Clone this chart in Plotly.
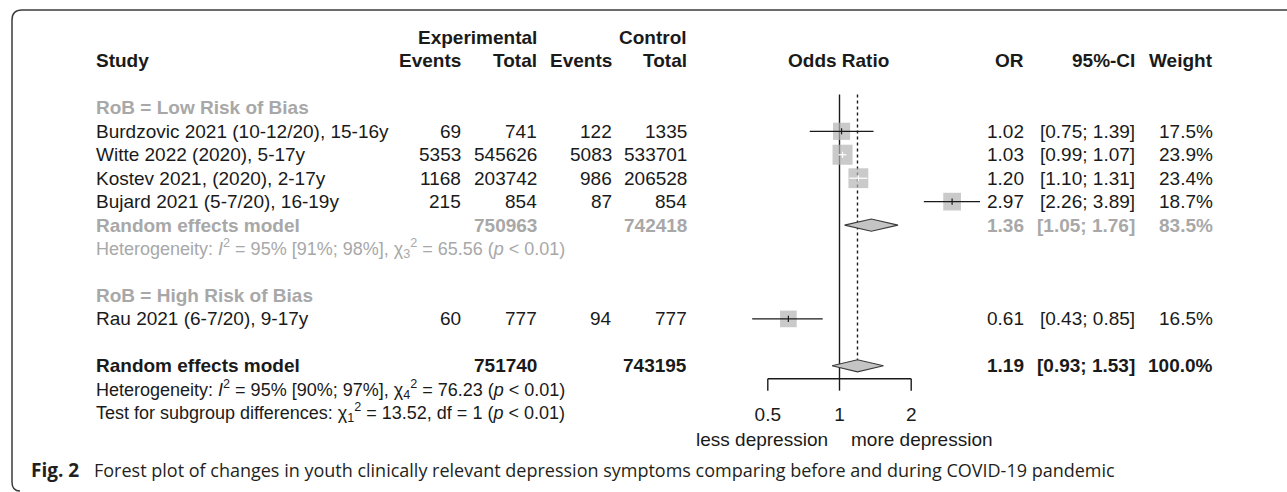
import math
import plotly.graph_objects as go

# ---------------- data ----------------
study_labels = [
    "Burdzovic 2021 (10-12/20), 15-16y",
    "Witte 2022 (2020), 5-17y",
    "Kostev 2021, (2020), 2-17y",
    "Bujard 2021 (5-7/20), 16-19y",
    "Rau 2021 (6-7/20), 9-17y",
]
exp_events = [69, 5353, 1168, 215, 60]
exp_total = [741, 545626, 203742, 854, 777]
ctrl_events = [122, 5083, 986, 87, 94]
ctrl_total = [1335, 533701, 206528, 854, 777]
odds_ratio = [1.02, 1.03, 1.20, 2.97, 0.61]
ci_low = [0.75, 0.99, 1.10, 2.26, 0.43]
ci_high = [1.39, 1.07, 1.31, 3.89, 0.85]
weight = [17.5, 23.9, 23.4, 18.7, 16.5]

subgroup_labels = ["RoB = Low Risk of Bias", "RoB = High Risk of Bias"]
sub_model_label = "Random effects model"
sub_exp_total = 750963
sub_ctrl_total = 742418
sub_or, sub_low, sub_high, sub_weight = 1.36, 1.05, 1.76, 83.5
sub_het = ("Heterogeneity: <i>I</i><sup>2</sup> = 95% [91%; 98%], "
           "χ<sub>3</sub><sup>2</sup> = 65.56 (<i>p</i> &lt; 0.01)")

overall_label = "Random effects model"
overall_exp_total = 751740
overall_ctrl_total = 743195
overall_or, overall_low, overall_high, overall_weight = 1.19, 0.93, 1.53, 100.0
overall_het = ("Heterogeneity: <i>I</i><sup>2</sup> = 95% [90%; 97%], "
               "χ<sub>4</sub><sup>2</sup> = 76.23 (<i>p</i> &lt; 0.01)")
subgroup_test = ("Test for subgroup differences: χ<sub>1</sub><sup>2</sup> = 13.52, "
                 "df = 1 (<i>p</i> &lt; 0.01)")

axis_ticks = [0.5, 1, 2]
axis_tick_labels = ["0.5", "1", "2"]
favours_left = "less depression"
favours_right = "more depression"
caption_bold = "Fig. 2"
caption_text = ("Forest plot of changes in youth clinically relevant depression "
                "symptoms comparing before and during COVID-19 pandemic")

# ---------------- layout constants ----------------
W, H = 1287, 492
X1_PX = 839.5          # pixel of OR = 1
DOUBLING_PX = 71.7     # pixels per doubling of OR
ROW0_PX = 37.5
ROW_PX = 23.45

study_rows = [4, 5, 6, 7, 12]
subgroup_rows = [3, 11]
sub_model_row = 8
sub_het_row = 9
overall_row = 14
overall_het_row = 15
test_row = 16
axis_row = 14.55
tick_end_row = 15.06
ticklabel_row = 16.17
favours_row = 17.15
line_top_row = 2.43

BLACK = "#1a1a1a"
GREY = "#a8a8a8"
SQUARE = "#b3b3b3"
DIAMOND = "#c4c4c4"
FONT = "Liberation Sans, Arial, sans-serif"
CAP_FONT = "Open Sans, sans-serif"
FS = 19
FS_HET = 18

def log10_at(px):
    return (px - X1_PX) / DOUBLING_PX * math.log10(2)

yr_top = -ROW0_PX / ROW_PX
yr_bot = (H - ROW0_PX) / ROW_PX

fig = go.Figure()

def line(xs, ys, color=BLACK, width=1.3, dash=None):
    fig.add_trace(go.Scatter(x=xs, y=ys, mode="lines",
                             line=dict(color=color, width=width, dash=dash),
                             hoverinfo="skip", showlegend=False))

# reference line (OR = 1) and random effects line
line([1, 1], [line_top_row, axis_row], width=1.4)
line([overall_or, overall_or], [line_top_row, overall_row - 0.24], width=1.4, dash="dot")

# squares
sq_sizes = [4.1 * math.sqrt(w) for w in weight]
fig.add_trace(go.Scatter(x=odds_ratio, y=study_rows, mode="markers",
                         marker=dict(symbol="square", size=sq_sizes, color=SQUARE,
                                     line=dict(width=0)),
                         hoverinfo="skip", showlegend=False))

# confidence intervals + estimate ticks
for est, lo, hi, r, s in zip(odds_ratio, ci_low, ci_high, study_rows, sq_sizes):
    width_px = (math.log2(hi) - math.log2(lo)) * DOUBLING_PX
    col = "white" if width_px < s else BLACK
    line([lo, hi], [r, r], color=col, width=1.2)
    line([est, est], [r - 0.13, r + 0.13], color=col, width=1.2)

# diamonds
def diamond(est, lo, hi, r):
    h = 0.26
    fig.add_trace(go.Scatter(x=[lo, est, hi, est, lo], y=[r, r - h, r, r + h, r],
                             mode="lines", fill="toself", fillcolor=DIAMOND,
                             line=dict(color="#3a3a3a", width=1.1),
                             hoverinfo="skip", showlegend=False))

diamond(sub_or, sub_low, sub_high, sub_model_row)
diamond(overall_or, overall_low, overall_high, overall_row)

# x axis
line([axis_ticks[0], axis_ticks[-1]], [axis_row, axis_row], width=1.4)
for t in axis_ticks:
    line([t, t], [axis_row, tick_end_row], width=1.4)
fig.add_trace(go.Scatter(x=axis_ticks, y=[ticklabel_row] * len(axis_ticks),
                         mode="text", text=axis_tick_labels,
                         textfont=dict(family=FONT, size=FS, color=BLACK),
                         textposition="middle center", hoverinfo="skip",
                         showlegend=False))

# ---------------- text columns ----------------
ann = []

def txt(text, px, row, anchor="left", bold=False, color=BLACK, size=FS, family=FONT):
    if bold:
        text = "<b>" + text + "</b>"
    ann.append(dict(text=text, x=px / W, xref="paper", y=row, yref="y",
                    xanchor=anchor, yanchor="middle", showarrow=False,
                    font=dict(family=family, size=size, color=color)))

COL_STUDY = 94
COL_EEV = 463
COL_ETOT = 539
COL_CEV = 614
COL_CTOT = 689
COL_OR = 1025.5
COL_CI = 1137
COL_W = 1215

txt("Experimental", COL_ETOT, 0, "right", True)
txt("Control", COL_CTOT, 0, "right", True)
txt("Study", COL_STUDY, 1, "left", True)
txt("Events", COL_EEV, 1, "right", True)
txt("Total", COL_ETOT, 1, "right", True)
txt("Events", COL_CEV, 1, "right", True)
txt("Total", COL_CTOT, 1, "right", True)
txt("Odds Ratio", X1_PX - 1, 1, "center", True)
txt("OR", COL_OR, 1, "right", True)
txt("95%-CI", COL_CI, 1, "right", True)
txt("Weight", COL_W, 1, "right", True)

for lab, r in zip(subgroup_labels, subgroup_rows):
    txt(lab, COL_STUDY, r, "left", True, GREY)

for i, r in enumerate(study_rows):
    txt(study_labels[i], COL_STUDY, r)
    txt(str(exp_events[i]), COL_EEV, r, "right")
    txt(str(exp_total[i]), COL_ETOT, r, "right")
    txt(str(ctrl_events[i]), COL_CEV, r, "right")
    txt(str(ctrl_total[i]), COL_CTOT, r, "right")
    txt(f"{odds_ratio[i]:.2f}", COL_OR, r, "right")
    txt(f"[{ci_low[i]:.2f}; {ci_high[i]:.2f}]", COL_CI, r, "right")
    txt(f"{weight[i]:.1f}%", COL_W, r, "right")

# subgroup model
txt(sub_model_label, COL_STUDY, sub_model_row, "left", True, GREY)
txt(str(sub_exp_total), COL_ETOT, sub_model_row, "right", True, GREY)
txt(str(sub_ctrl_total), COL_CTOT, sub_model_row, "right", True, GREY)
txt(f"{sub_or:.2f}", COL_OR, sub_model_row, "right", True, GREY)
txt(f"[{sub_low:.2f}; {sub_high:.2f}]", COL_CI, sub_model_row, "right", True, GREY)
txt(f"{sub_weight:.1f}%", COL_W, sub_model_row, "right", True, GREY)
txt(sub_het, COL_STUDY, sub_het_row, "left", False, GREY, FS_HET)

# overall model
txt(overall_label, COL_STUDY, overall_row, "left", True)
txt(str(overall_exp_total), COL_ETOT, overall_row, "right", True)
txt(str(overall_ctrl_total), COL_CTOT, overall_row, "right", True)
txt(f"{overall_or:.2f}", COL_OR, overall_row, "right", True)
txt(f"[{overall_low:.2f}; {overall_high:.2f}]", COL_CI, overall_row, "right", True)
txt(f"{overall_weight:.1f}%", COL_W, overall_row, "right", True)
txt(overall_het, COL_STUDY, overall_het_row, "left", False, BLACK, FS_HET)
txt(subgroup_test, COL_STUDY, test_row, "left", False, BLACK, FS_HET)

txt(favours_left, X1_PX - 10, favours_row, "right")
txt(favours_right, X1_PX + 10, favours_row, "left")

# caption
CAP_Y = 1 - 470 / H
ann.append(dict(text="<b>" + caption_bold + "</b>", x=29 / W, xref="paper", y=CAP_Y,
                yref="paper", xanchor="left", yanchor="middle", showarrow=False,
                font=dict(family=CAP_FONT, size=19, color="#231f20")))
ann.append(dict(text=caption_text, x=92 / W, xref="paper", y=CAP_Y,
                yref="paper", xanchor="left", yanchor="middle", showarrow=False,
                font=dict(family=CAP_FONT, size=18, color="#231f20")))

# frame (rounded corners top-left / bottom-left)
def P(px, py):
    return f"{px / W:.5f},{1 - py / H:.5f}"

frame_path = ("M " + P(W + 5, 10) + " L " + P(22, 10) + " Q " + P(12, 10) + " " + P(12, 20)
              + " L " + P(12, 482) + " Q " + P(12, 491) + " " + P(20, 491))
shapes = [dict(type="path", path=frame_path, xref="paper", yref="paper",
               line=dict(color="#3c3c3c", width=1.5))]

fig.update_layout(
    width=W, height=H,
    margin=dict(l=0, r=0, t=0, b=0),
    paper_bgcolor="white", plot_bgcolor="white",
    xaxis=dict(type="log", range=[log10_at(0), log10_at(W)], visible=False,
               domain=[0, 1], fixedrange=True),
    yaxis=dict(range=[yr_bot, yr_top], visible=False, domain=[0, 1], fixedrange=True),
    annotations=ann, shapes=shapes,
    hovermode=False, showlegend=False,
)

fig.write_html("out.html")
